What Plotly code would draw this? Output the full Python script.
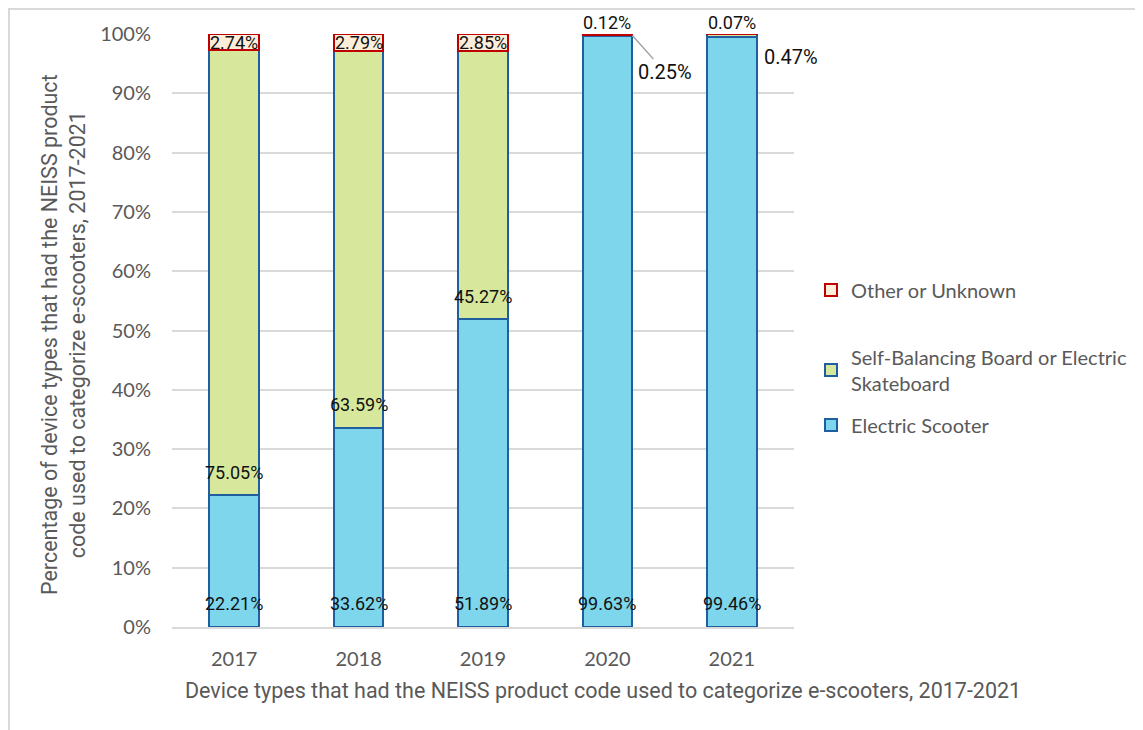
import plotly.graph_objects as go

years = ["2017", "2018", "2019", "2020", "2021"]
electric_scooter = [22.21, 33.62, 51.89, 99.63, 99.46]
self_balancing = [75.05, 63.59, 45.27, 0.25, 0.47]
other_unknown = [2.74, 2.79, 2.85, 0.12, 0.07]
y_ticks = [0, 10, 20, 30, 40, 50, 60, 70, 80, 90, 100]
y_tick_labels = [f"{v}%" for v in y_ticks]
x_title = "Device types that had the NEISS product code used to categorize e-scooters, 2017-2021"
y_title = "Percentage of device types that had the NEISS product<br>code used to categorize e-scooters, 2017-2021"

# layout in window pixels (page body has an 8px margin)
O = 8
L, R, T, B = 172, 349, 34, 103
W, H = 1143, 730
PW, PH = W - L - R, H - T - B

BLUE_EDGE = "#1F5FA0"
fig = go.Figure()
fig.add_trace(go.Bar(x=years, y=electric_scooter, name="Electric Scooter",
                     marker=dict(color="#7DD6EB", line=dict(color=BLUE_EDGE, width=2)),
                     legend="legend3", hoverinfo="skip"))
fig.add_trace(go.Bar(x=years, y=self_balancing, name="Self-Balancing Board or Electric<br>Skateboard",
                     marker=dict(color="#D7E89D", line=dict(color=BLUE_EDGE, width=2)),
                     legend="legend2", hoverinfo="skip"))
fig.add_trace(go.Bar(x=years, y=other_unknown, name="Other or Unknown",
                     marker=dict(color="#FDEEDA", line=dict(color="#C00000", width=2)),
                     legend="legend", hoverinfo="skip"))

lab_font = dict(family="Roboto", size=18, color="#111111")
ann = []
for i, yr in enumerate(years):
    es = electric_scooter[i]
    sb = self_balancing[i]
    ot = other_unknown[i]
    ann.append(dict(x=i, y=0, text=f"{es:.2f}%", showarrow=False, yanchor="middle",
                    yshift=24, font=lab_font))
    if sb > 1:
        ann.append(dict(x=i, y=es, text=f"{sb:.2f}%", showarrow=False, yanchor="middle",
                        yshift=23, font=lab_font))
    if ot > 1:
        ann.append(dict(x=i, y=es + sb + ot / 2, text=f"{ot:.2f}%", showarrow=False,
                        yanchor="middle", font=lab_font))
    else:
        ann.append(dict(x=i, y=es + sb + ot, text=f"{ot:.2f}%", showarrow=False,
                        yanchor="bottom", yshift=-1, font=lab_font))

big_font = dict(family="Roboto", size=20, color="#111111")
# 2020 self-balancing with leader line
ann.append(dict(x=3, y=electric_scooter[3] + self_balancing[3] / 2,
                text=f"{self_balancing[3]:.2f}%", showarrow=True, arrowhead=0,
                arrowcolor="#A6A6A6", arrowwidth=1.5, xshift=25, ax=33, ay=37,
                font=big_font))
# 2021 self-balancing label
ann.append(dict(x=4, y=electric_scooter[4] + self_balancing[4] / 2,
                text=f"{self_balancing[4]:.2f}%", showarrow=False,
                xshift=59, yshift=-21, font=big_font))

tick_font = dict(family="Lato", size=20, color="#595959")
leg_font = dict(family="Lato", size=20, color="#595959")
title_font = dict(family="Roboto", size=21.5, color="#595959")

# x axis title (centered as in the reference, right of plot centre)
ann.append(dict(xref="paper", yref="paper", x=(603 - L) / PW, y=(H - B - 690) / PH,
                xanchor="center", yanchor="middle", text=x_title, showarrow=False,
                font=title_font))
# y axis title
ann.append(dict(xref="paper", yref="paper", x=(63 - L) / PW, y=(H - B - 335) / PH,
                xanchor="center", yanchor="middle", text=y_title, showarrow=False,
                textangle=-90, font=title_font))

fig.update_layout(
    width=W - O, height=H - O,
    margin=dict(l=L - O, r=R, t=T - O, b=B, autoexpand=False),
    paper_bgcolor="white", plot_bgcolor="white",
    barmode="stack", bargap=0.6,
    annotations=ann,
    xaxis=dict(type="category", range=[-0.5, 4.5], showgrid=False, showline=True,
               linecolor="#D9D9D9", linewidth=2, tickfont=tick_font,
               ticks="outside", ticklen=13, tickcolor="rgba(0,0,0,0)"),
    yaxis=dict(range=[0, 100], tickvals=y_ticks, ticktext=y_tick_labels, showgrid=True,
               gridcolor="#D9D9D9", gridwidth=1.5, zeroline=False, showline=False,
               tickfont=tick_font, ticks="outside", ticklen=16, tickcolor="rgba(0,0,0,0)"),
    showlegend=True,
    legend=dict(x=(811 - L) / PW, y=(H - B - 290) / PH, xanchor="left", yanchor="middle",
                font=leg_font, bgcolor="rgba(0,0,0,0)"),
    legend2=dict(x=(811 - L) / PW, y=(H - B - 370) / PH, xanchor="left", yanchor="middle",
                 font=leg_font, bgcolor="rgba(0,0,0,0)"),
    legend3=dict(x=(811 - L) / PW, y=(H - B - 425) / PH, xanchor="left", yanchor="middle",
                 font=leg_font, bgcolor="rgba(0,0,0,0)"),
    shapes=[
        dict(type="line", xref="paper", yref="paper",
             x0=(O - L) / PW, x1=(W - L) / PW, y0=(H - B - O - 1) / PH, y1=(H - B - O - 1) / PH,
             line=dict(color="#D9D9D9", width=2)),
        dict(type="line", xref="paper", yref="paper",
             x0=(O + 1 - L) / PW, x1=(O + 1 - L) / PW, y0=(H - B - O) / PH, y1=(H - B - H) / PH,
             line=dict(color="#D9D9D9", width=2)),
    ],
)

fig.write_html("out.html")
